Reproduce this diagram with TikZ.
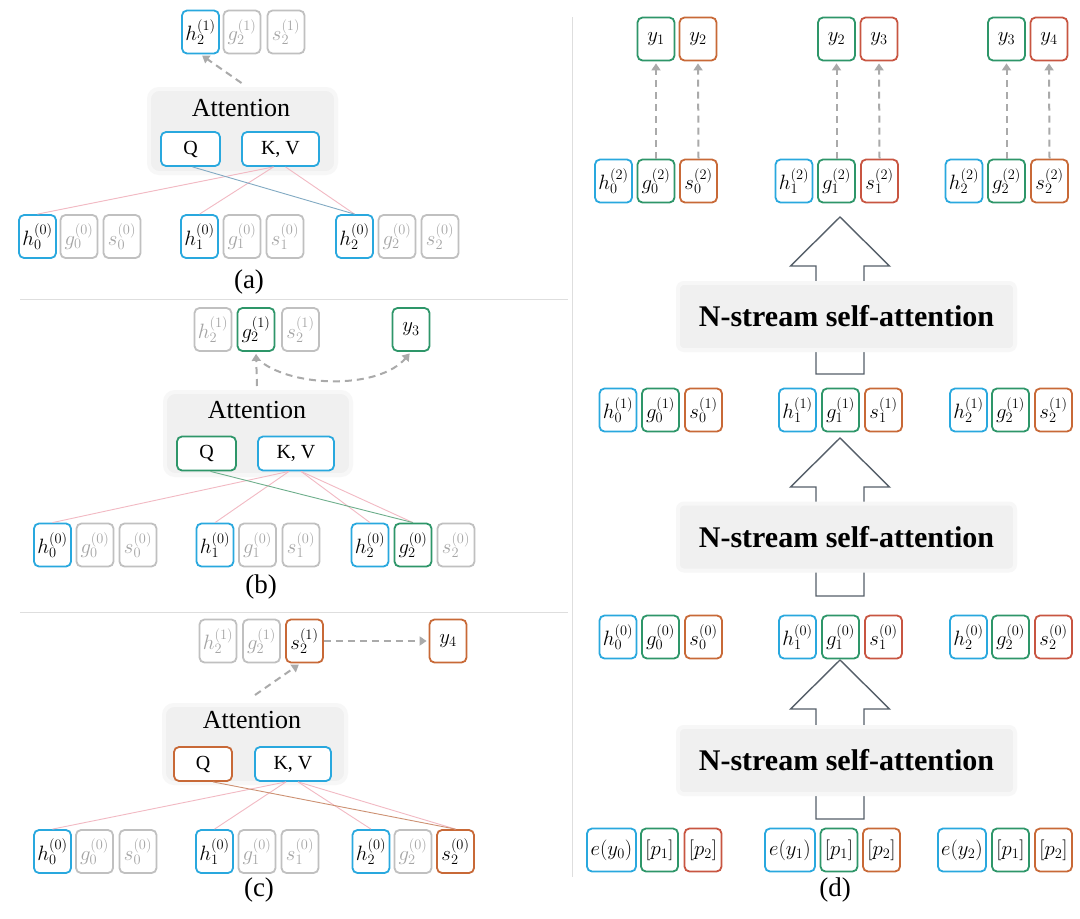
\documentclass[tikz,border=0pt]{standalone}
\usepackage{fontspec}
\setmainfont{Liberation Serif}
\usetikzlibrary{arrows.meta,calc}
\DeclareMathSizes{20.74}{20.74}{14.4}{10}
\definecolor{cblue}{RGB}{41,168,222}
\definecolor{cgreen}{RGB}{46,150,105}
\definecolor{corange}{RGB}{200,105,55}
\definecolor{cred}{RGB}{200,85,65}
\definecolor{cgray}{RGB}{192,192,192}
\definecolor{cgtext}{RGB}{165,165,165}
\definecolor{bgray}{RGB}{240,240,240}
\definecolor{bgray2}{RGB}{247,247,247}
\definecolor{dgray}{RGB}{170,170,170}
\definecolor{apink}{RGB}{242,185,195}
\definecolor{ablue}{RGB}{130,170,195}
\definecolor{agreen}{RGB}{110,175,140}
\definecolor{aorange}{RGB}{205,145,115}
\definecolor{arrowc}{RGB}{85,95,105}
\definecolor{sepc}{RGB}{222,222,222}
\newcommand\msz{\fontsize{20.74}{24}\selectfont}
\newcommand\tsz{\fontsize{20}{24}\selectfont}
\newcommand\asz{\fontsize{26}{30}\selectfont}
\newcommand\lsz{\fontsize{27}{32}\selectfont}
\newcommand\nsz{\fontsize{30}{34}\selectfont\bfseries}
\tikzset{
  cell/.style={draw, line width=1.8pt, rounded corners=5pt, minimum width=37pt, minimum height=43pt, inner sep=0pt, fill=white, font=\msz},
  bcell/.style={cell, draw=cblue},
  gcell/.style={cell, draw=cgreen},
  ocell/.style={cell, draw=corange},
  rcell/.style={cell, draw=cred},
  xcell/.style={cell, draw=cgray, text=cgtext},
  qkv/.style={draw, line width=1.8pt, rounded corners=5pt, minimum height=34pt, inner sep=0pt, fill=white, font=\tsz},
  attbg/.style={fill=bgray, rounded corners=10pt, draw=bgray2, line width=4pt},
  atext/.style={font=\asz, inner sep=0pt},
  lbl/.style={font=\lsz, inner sep=0pt},
  nbox/.style={fill=bgray, rounded corners=6pt, draw=bgray2, line width=4pt, font=\nsz, minimum width=337pt, minimum height=67pt, inner sep=0pt},
  dasharr/.style={draw=dgray, line width=2pt, dash pattern=on 7pt off 5pt, -{Triangle[width=9pt,length=7pt]}, shorten >=2pt},
  pinkl/.style={draw=apink, line width=0.9pt},
  bluel/.style={draw=ablue, line width=0.9pt},
  greenl/.style={draw=agreen, line width=0.9pt},
  orangel/.style={draw=aorange, line width=0.9pt},
  sep/.style={draw=sepc, line width=1pt},
  barrow/.style={draw=arrowc, line width=1.4pt, fill=white, line join=miter}
}
\begin{document}
\begin{tikzpicture}[x=1pt,y=-1pt]
\useasboundingbox[fill=white] (0,0) rectangle (1080,919);

% separators
\draw[sep] (20,299) -- (568,299);
\draw[sep] (20,612) -- (568,612);
\draw[sep] (572,17) -- (572,877);

% ---------------- panel (a)
\node[attbg, minimum width=187pt, minimum height=84pt] (abg) at (242.5,131) {};
\node[atext] (aatt) at (241,108) {Attention};
\node[qkv, draw=cblue, minimum width=59pt] (aq) at (190.5,149) {Q};
\node[qkv, draw=cblue, minimum width=77pt] (akv) at (280.5,149) {K, V};
\node[bcell] (a1h) at (200.5,32) {$h_2^{(1)}$};
\node[xcell] (a1g) at (242,32) {$g_2^{(1)}$};
\node[xcell] (a1s) at (286,32) {$s_2^{(1)}$};
\node[bcell] (a0h0) at (37.5,236.5) {$h_0^{(0)}$};
\node[xcell] (a0g0) at (79,236.5) {$g_0^{(0)}$};
\node[xcell] (a0s0) at (122,236.5) {$s_0^{(0)}$};
\node[bcell] (a0h1) at (199.5,236.5) {$h_1^{(0)}$};
\node[xcell] (a0g1) at (242,236.5) {$g_1^{(0)}$};
\node[xcell] (a0s1) at (285,236.5) {$s_1^{(0)}$};
\node[bcell] (a0h2) at (354.5,236.5) {$h_2^{(0)}$};
\node[xcell] (a0g2) at (397,236.5) {$g_2^{(0)}$};
\node[xcell] (a0s2) at (440,236.5) {$s_2^{(0)}$};
\draw[pinkl] ([xshift=-7pt]akv.south) -- (a0h0.north);
\draw[pinkl] ([xshift=-7pt]akv.south) -- (a0h1.north);
\draw[pinkl] ([xshift=5pt]akv.south) -- (a0h2.north);
\draw[bluel] ([xshift=2pt]aq.south) -- (a0h2.north);
\draw[dasharr] ([xshift=-1pt,yshift=4pt]abg.north) -- (a1h.south);
\node[lbl] (la) at (249,282) {(a)};

% ---------------- panel (b)
\node[attbg, minimum width=186pt, minimum height=83pt] (bbg) at (258,433.5) {};
\node[atext] (batt) at (257,410) {Attention};
\node[qkv, draw=cgreen, minimum width=59pt] (bq) at (206.5,453.5) {Q};
\node[qkv, draw=cblue, minimum width=76pt] (bkv) at (296,453.5) {K, V};
\node[xcell] (b1h) at (213,329.5) {$h_2^{(1)}$};
\node[gcell] (b1g) at (256,329.5) {$g_2^{(1)}$};
\node[xcell] (b1s) at (300.5,329.5) {$s_2^{(1)}$};
\node[gcell] (by3) at (411,329.5) {$y_3$};
\node[bcell] (b0h0) at (52.5,545) {$h_0^{(0)}$};
\node[xcell] (b0g0) at (95,545) {$g_0^{(0)}$};
\node[xcell] (b0s0) at (138,545) {$s_0^{(0)}$};
\node[bcell] (b0h1) at (215,545) {$h_1^{(0)}$};
\node[xcell] (b0g1) at (257.5,545) {$g_1^{(0)}$};
\node[xcell] (b0s1) at (301,545) {$s_1^{(0)}$};
\node[bcell] (b0h2) at (370,545) {$h_2^{(0)}$};
\node[gcell] (b0g2) at (413,545) {$g_2^{(0)}$};
\node[xcell] (b0s2) at (456,545) {$s_2^{(0)}$};
\draw[pinkl] ([xshift=-7pt]bkv.south) -- (b0h0.north);
\draw[pinkl] ([xshift=-7pt]bkv.south) -- (b0h1.north);
\draw[pinkl] ([xshift=5pt]bkv.south) -- (b0h2.north);
\draw[pinkl] ([xshift=5pt]bkv.south) -- (b0g2.north);
\draw[greenl] ([xshift=4pt]bq.south) -- (b0g2.north);
\draw[dasharr] ([xshift=-1pt,yshift=4pt]bbg.north) -- (b1g.south);
\draw[dasharr] ([xshift=8pt,yshift=-12pt]b1g.south) .. controls (300,388) and (380,388) .. (by3.south);
\node[lbl] (lb) at (261,587) {(b)};

% ---------------- panel (c)
\node[attbg, minimum width=182pt, minimum height=78pt] (cbg) at (255,744) {};
\node[atext] (catt) at (252,720) {Attention};
\node[qkv, draw=corange, minimum width=58pt] (cq) at (203,764) {Q};
\node[qkv, draw=cblue, minimum width=76pt] (ckv) at (293,764) {K, V};
\node[xcell] (c1h) at (218,641) {$h_2^{(1)}$};
\node[xcell] (c1g) at (261.5,641) {$g_2^{(1)}$};
\node[ocell] (c1s) at (304.5,641) {$s_2^{(1)}$};
\node[ocell] (cy4) at (448,641) {$y_4$};
\node[bcell] (c0h0) at (52.5,851.5) {$h_0^{(0)}$};
\node[xcell] (c0g0) at (94.5,851.5) {$g_0^{(0)}$};
\node[xcell] (c0s0) at (138,851.5) {$s_0^{(0)}$};
\node[bcell] (c0h1) at (214.5,851.5) {$h_1^{(0)}$};
\node[xcell] (c0g1) at (257,851.5) {$g_1^{(0)}$};
\node[xcell] (c0s1) at (300,851.5) {$s_1^{(0)}$};
\node[bcell] (c0h2) at (371,851.5) {$h_2^{(0)}$};
\node[xcell] (c0g2) at (413,851.5) {$g_2^{(0)}$};
\node[ocell] (c0s2) at (455.5,851.5) {$s_2^{(0)}$};
\draw[pinkl] ([xshift=-7pt]ckv.south) -- (c0h0.north);
\draw[pinkl] ([xshift=-7pt]ckv.south) -- (c0h1.north);
\draw[pinkl] ([xshift=5pt]ckv.south) -- (c0h2.north);
\draw[pinkl] ([xshift=5pt]ckv.south) -- (c0s2.north);
\draw[orangel] ([xshift=10pt]cq.south) -- (c0s2.north);
\draw[dasharr] ([xshift=0pt,yshift=8pt]cbg.north) -- ([xshift=-4pt]c1s.south);
\draw[dasharr] (c1s.east) -- (cy4.west);
\node[lbl] (lc) at (259,890) {(c)};

% ---------------- panel (d)
% block arrows (behind boxes)
\draw[barrow] (816,374) -- (816,266) -- (790.5,266) -- (840,217) -- (889.5,266) -- (864,266) -- (864,374) -- cycle;
\draw[barrow] (816,596) -- (816,487) -- (790.5,487) -- (840,438) -- (889.5,487) -- (864,487) -- (864,596) -- cycle;
\draw[barrow] (816,819) -- (816,709) -- (790.5,709) -- (840,660) -- (889.5,709) -- (864,709) -- (864,819) -- cycle;
\node[nbox] (ns2) at (846.5,316.5) {N-stream self-attention};
\node[nbox] (ns1) at (846.5,537) {N-stream self-attention};
\node[nbox] (ns0) at (846.5,760.5) {N-stream self-attention};

% outputs
\node[gcell] (oy1a) at (656,39) {$y_1$};
\node[ocell] (oy2a) at (698,39) {$y_2$};
\node[gcell] (oy2b) at (836.5,39) {$y_2$};
\node[rcell] (oy3b) at (879,39) {$y_3$};
\node[gcell] (oy3c) at (1006.5,39) {$y_3$};
\node[rcell] (oy4c) at (1049,39) {$y_4$};

% layer 2
\node[bcell] (r2h0) at (613.5,181) {$h_0^{(2)}$};
\node[gcell] (r2g0) at (656,181) {$g_0^{(2)}$};
\node[ocell] (r2s0) at (698.5,181) {$s_0^{(2)}$};
\node[bcell] (r2h1) at (794,181) {$h_1^{(2)}$};
\node[gcell] (r2g1) at (836.5,181) {$g_1^{(2)}$};
\node[rcell] (r2s1) at (879.5,181) {$s_1^{(2)}$};
\node[bcell] (r2h2) at (964,181) {$h_2^{(2)}$};
\node[gcell] (r2g2) at (1006.5,181) {$g_2^{(2)}$};
\node[ocell] (r2s2) at (1049.5,181) {$s_2^{(2)}$};
\draw[dasharr] (r2g0.north) -- (oy1a.south);
\draw[dasharr] (r2s0.north) -- (oy2a.south);
\draw[dasharr] (r2g1.north) -- (oy2b.south);
\draw[dasharr] (r2s1.north) -- (oy3b.south);
\draw[dasharr] (r2g2.north) -- (oy3c.south);
\draw[dasharr] (r2s2.north) -- (oy4c.south);

% layer 1
\node[bcell] (r1h0) at (618,410) {$h_0^{(1)}$};
\node[gcell] (r1g0) at (660.5,410) {$g_0^{(1)}$};
\node[ocell] (r1s0) at (703.5,410) {$s_0^{(1)}$};
\node[bcell] (r1h1) at (797.5,410) {$h_1^{(1)}$};
\node[gcell] (r1g1) at (840.5,410) {$g_1^{(1)}$};
\node[ocell] (r1s1) at (883.5,410) {$s_1^{(1)}$};
\node[bcell] (r1h2) at (968.5,410) {$h_2^{(1)}$};
\node[gcell] (r1g2) at (1010.5,410) {$g_2^{(1)}$};
\node[ocell] (r1s2) at (1053.5,410) {$s_2^{(1)}$};

% layer 0
\node[bcell] (r0h0) at (618,637) {$h_0^{(0)}$};
\node[gcell] (r0g0) at (660.5,637) {$g_0^{(0)}$};
\node[ocell] (r0s0) at (703.5,637) {$s_0^{(0)}$};
\node[bcell] (r0h1) at (797.5,637) {$h_1^{(0)}$};
\node[gcell] (r0g1) at (840.5,637) {$g_1^{(0)}$};
\node[rcell] (r0s1) at (883.5,637) {$s_1^{(0)}$};
\node[bcell] (r0h2) at (968.5,637) {$h_2^{(0)}$};
\node[gcell] (r0g2) at (1010.5,637) {$g_2^{(0)}$};
\node[rcell] (r0s2) at (1053.5,637) {$s_2^{(0)}$};

% inputs
\node[bcell, minimum width=49pt] (ie0) at (611.5,850) {$e(y_0)$};
\node[gcell] (ip10) at (659.5,850) {$[p_1]$};
\node[rcell] (ip20) at (703,850) {$[p_2]$};
\node[bcell, minimum width=50pt] (ie1) at (790,850) {$e(y_1)$};
\node[gcell] (ip11) at (839,850) {$[p_1]$};
\node[ocell] (ip21) at (881.5,850) {$[p_2]$};
\node[bcell, minimum width=48pt] (ie2) at (962,850) {$e(y_2)$};
\node[gcell] (ip12) at (1010.5,850) {$[p_1]$};
\node[ocell] (ip22) at (1053.5,850) {$[p_2]$};

\node[lbl] (ld) at (835,890) {(d)};
\end{tikzpicture}
\end{document}
